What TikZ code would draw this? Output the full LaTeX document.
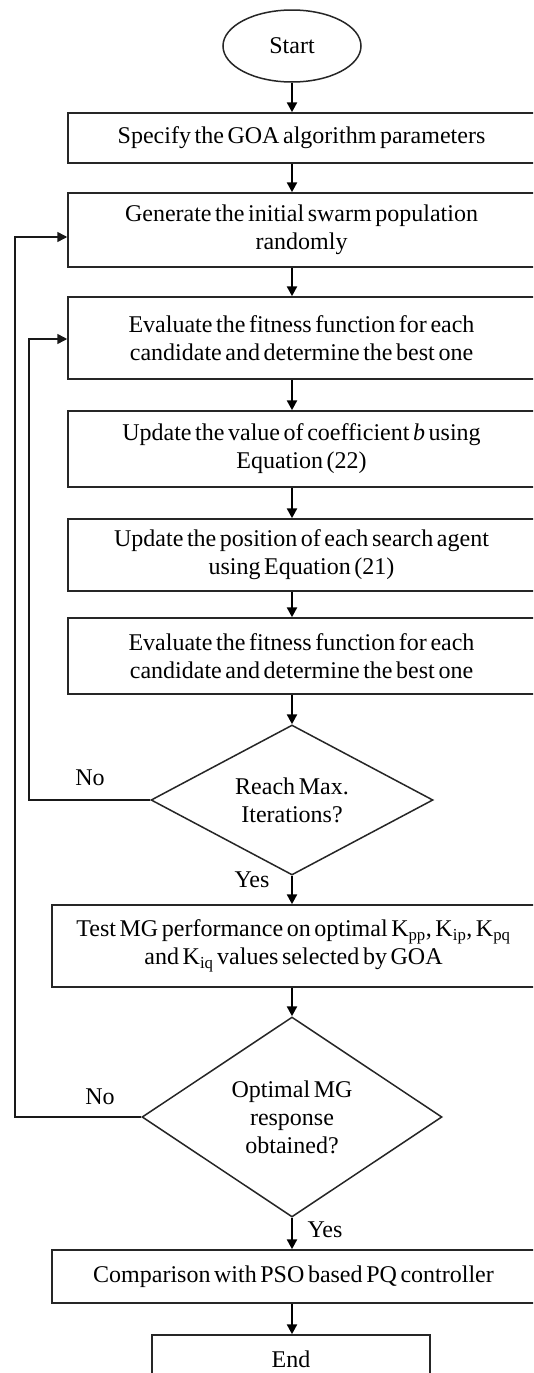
\documentclass[tikz,border=0pt]{standalone}
\usepackage{fontspec}
\setmainfont[WordSpace=0.6]{Liberation Serif}
\usetikzlibrary{shapes.geometric,arrows.meta}
\begin{document}
\begin{tikzpicture}[x=1pt,y=-1pt,
  txt/.style={font=\fontsize{24}{28}\selectfont},
  box/.style={txt, draw=black!85, line width=1.5pt, inner sep=0pt, align=center},
  ell/.style={txt, draw=black!85, line width=1.5pt, ellipse, inner sep=0pt, minimum width=138pt, minimum height=72pt},
  dia/.style={txt, draw=black!85, line width=1.5pt, diamond, inner sep=0pt, align=center},
  arr/.style={line width=2.4pt, -{Triangle[length=10pt,width=10pt]}},
  fb/.style={line width=1.5pt, draw=black!90, -{Triangle[length=10pt,width=10pt]}},
  lbl/.style={txt}
]
\clip (0,0) rectangle (533,1373);
\fill[white] (0,0) rectangle (533,1373);

\node[ell] (start) at (292,46) {Start};
\node[box, minimum width=467pt, minimum height=50pt] (b1) at (301.5,138) {Specify the GOA algorithm parameters};
\node[box, minimum width=467pt, minimum height=74pt] (b2) at (301.5,230) {Generate the initial swarm population\\randomly};
\node[box, minimum width=467pt, minimum height=82pt] (b3) at (301.5,338) {Evaluate the fitness function for each\\candidate and determine the best one};
\node[box, minimum width=467pt, minimum height=76pt] (b4) at (301.5,449) {Update the value of coefficient \textit{b} using\\Equation (22)};
\node[box, minimum width=467pt, minimum height=72pt] (b5) at (301.5,555) {Update the position of each search agent\\using Equation (21)};
\node[box, minimum width=467pt, minimum height=76pt] (b6) at (301.5,656) {Evaluate the fitness function for each\\candidate and determine the best one};
\node[dia, shape aspect=1.88, minimum width=282pt, minimum height=150pt] (d1) at (292,800) {Reach Max.\\Iterations?};
\node[box, minimum width=483pt, minimum height=82pt] (b7) at (293.5,946) {Test MG performance on optimal K\textsubscript{pp}, K\textsubscript{ip}, K\textsubscript{pq}\\and K\textsubscript{iq} values selected by GOA};
\node[dia, shape aspect=1.5, minimum width=300pt, minimum height=200pt] (d2) at (292,1117) {Optimal MG\\response\\obtained?};
\node[box, minimum width=483pt, minimum height=53pt] (b8) at (293.5,1276.5) {Comparison with PSO based PQ controller};
\node[box, minimum width=278pt, minimum height=48pt] (e) at (291,1359) {End};

\draw[arr] (start.south) -- (start.south |- b1.north);
\draw[arr] (b1.south -| start) -- (b2.north -| start);
\draw[arr] (b2.south -| start) -- (b3.north -| start);
\draw[arr] (b3.south -| start) -- (b4.north -| start);
\draw[arr] (b4.south -| start) -- (b5.north -| start);
\draw[arr] (b5.south -| start) -- (b6.north -| start);
\draw[arr] (b6.south -| start) -- (d1.north);
\draw[arr] (d1.south) -- (d1.south |- b7.north);
\draw[arr] (b7.south -| start) -- (d2.north);
\draw[arr] (d2.south) -- (d2.south |- b8.north);
\draw[arr] (b8.south -| start) -- (e.north -| start);

\coordinate (l1) at (29,800);
\coordinate (l2) at (15,1117);
\draw[fb] (d1.west) -- (l1) -- (l1 |- 0,339) -- (b3.west |- 0,339);
\draw[fb] (d2.west) -- (l2) -- (l2 |- 0,237) -- (b2.west |- 0,237);

\node[lbl] (no1) at (90,778) {No};
\node[lbl] (yes1) at (252,880) {Yes};
\node[lbl] (no2) at (100,1097) {No};
\node[lbl] (yes2) at (325,1230) {Yes};
\end{tikzpicture}
\end{document}
